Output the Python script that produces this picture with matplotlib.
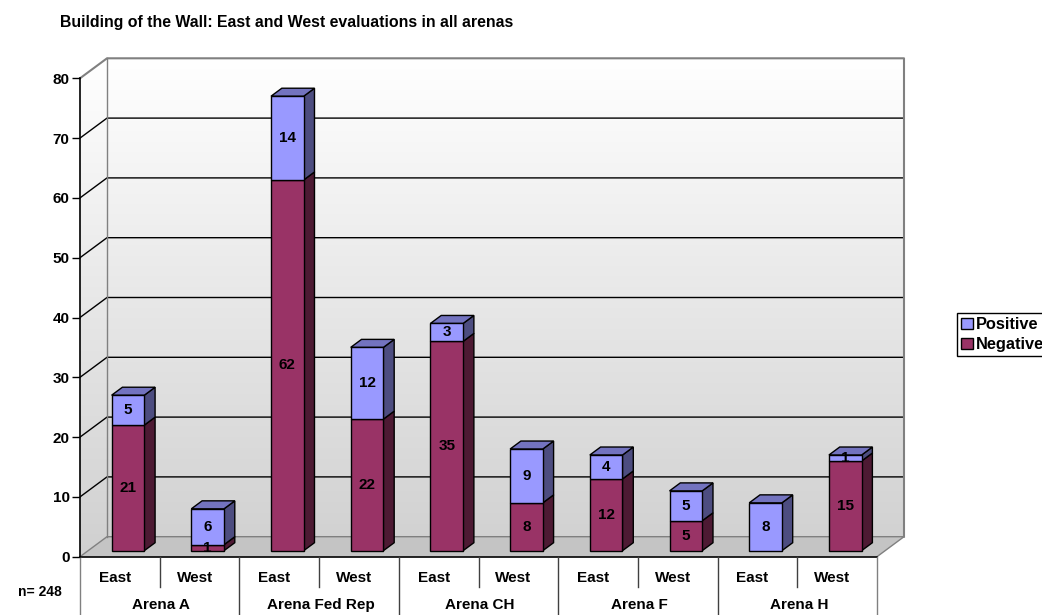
import matplotlib
matplotlib.use("Agg")
import matplotlib.pyplot as plt
import numpy as np
from matplotlib.patches import Polygon, Patch
from matplotlib.colors import LinearSegmentedColormap

plt.rcParams['font.family'] = ['Liberation Sans', 'DejaVu Sans']
plt.rcParams['font.weight'] = 'bold'

# ---- data -------------------------------------------------------------
title = "Building of the Wall: East and West evaluations in all arenas"
arenas = ["Arena A", "Arena Fed Rep", "Arena CH", "Arena F", "Arena H"]
sides = ["East", "West"]
negative = [21, 1, 62, 22, 35, 8, 12, 5, 0, 15]
positive = [5, 6, 14, 12, 3, 9, 4, 5, 8, 1]
series_names = ["Positive", "Negative"]
sample_note = "n= 248"
y_ticks = list(range(0, 81, 10))

# ---- styling ----------------------------------------------------------
POS = np.array([0x99, 0x99, 0xFF]) / 255
NEG = np.array([0x99, 0x33, 0x66]) / 255
FS = 11

W, H, DPI = 1042, 615, 100
fig = plt.figure(figsize=(W / DPI, H / DPI), dpi=DPI)
ax = fig.add_axes([0, 0, 1, 1])

# pixel scale of the plot: one category / one value unit
XU, YU = 79.7, 5.98
X0, Y0 = 80, 556.7
ax.set_xlim(-X0 / XU, (W - X0) / XU)
ax.set_ylim(-(H - Y0) / YU, Y0 / YU)

ncat = len(negative)
ymax = y_ticks[-1]
DX, DY = 27 / XU, 20 / YU          # full depth of the 3-D box
D0, D1 = 0.3, 0.7                  # depth range occupied by the bars
BW = 0.41                          # bar width in category units

# ---- walls and floor --------------------------------------------------
wall_path = Polygon([(0, 0), (DX, DY), (ncat + DX, DY), (ncat + DX, ymax + DY),
                     (DX, ymax + DY), (0, ymax)], closed=True,
                    facecolor='none', edgecolor='none')
ax.add_patch(wall_path)
cmap = LinearSegmentedColormap.from_list('wall', ['#d0d0d0', '#e7e7e7', '#ffffff'])
grad = np.linspace(0, 1, 256).reshape(-1, 1)
img = ax.imshow(grad, extent=[0, ncat + DX, 0, ymax + DY], origin='lower',
                aspect='auto', cmap=cmap, interpolation='bicubic', zorder=0)
img.set_clip_path(wall_path)

floor = Polygon([(0, 0), (ncat, 0), (ncat + DX, DY), (DX, DY)], closed=True,
                facecolor='#c4c4c4', edgecolor='none', zorder=1)
ax.add_patch(floor)

for v in y_ticks[1:-1]:
    ax.plot([0, DX, ncat + DX], [v, v + DY, v + DY], color='black', lw=1,
            zorder=1.5, solid_capstyle='butt')
# wall outlines
ax.plot([0, DX, ncat + DX, ncat + DX], [ymax, ymax + DY, ymax + DY, DY],
        color='#808080', lw=1.5, zorder=1.5)
ax.plot([DX, DX], [DY, ymax + DY], color='#808080', lw=1, zorder=1.5)
ax.plot([0, DX, ncat + DX, ncat], [0, DY, DY, 0], color='#808080', lw=1,
        zorder=1.5)
ax.plot([0, ncat], [0, 0], color='black', lw=1.2, zorder=2)

# ---- bars -------------------------------------------------------------
def draw_segment(xc, y0, y1, base, top_face):
    x0 = xc - BW / 2 + D0 * DX
    oy = D0 * DY
    bx, by = (D1 - D0) * DX, (D1 - D0) * DY
    kw = dict(closed=True, edgecolor='black', lw=1, joinstyle='miter', zorder=3)
    ax.add_patch(Polygon([(x0 + BW, y0 + oy), (x0 + BW + bx, y0 + oy + by),
                          (x0 + BW + bx, y1 + oy + by), (x0 + BW, y1 + oy)],
                         facecolor=base * 0.5, **kw))
    if top_face:
        ax.add_patch(Polygon([(x0, y1 + oy), (x0 + BW, y1 + oy),
                              (x0 + BW + bx, y1 + oy + by), (x0 + bx, y1 + oy + by)],
                             facecolor=base * 0.75, **kw))
    ax.add_patch(Polygon([(x0, y0 + oy), (x0 + BW, y0 + oy),
                          (x0 + BW, y1 + oy), (x0, y1 + oy)],
                         facecolor=base, **kw))


for i in range(ncat):
    xc = i + 0.5
    segs = [(negative[i], NEG), (positive[i], POS)]
    segs = [(v, c) for v, c in segs if v > 0]
    bottom = 0
    for k, (v, c) in enumerate(segs):
        draw_segment(xc, bottom, bottom + v, c, k == len(segs) - 1)
        ax.text(xc + D0 * DX, bottom + v / 2 + D0 * DY, f"{v}", ha='center',
                va='center', fontsize=FS, fontweight='bold', zorder=10)
        bottom += v

# ---- value axis -------------------------------------------------------
for s in ['top', 'right', 'bottom']:
    ax.spines[s].set_visible(False)
ax.spines['left'].set_position(('data', 0))
ax.spines['left'].set_bounds(0, ymax)
ax.spines['left'].set_linewidth(1.2)
ax.spines['left'].set_zorder(2)
ax.set_yticks(y_ticks)
ax.set_yticklabels([str(t) for t in y_ticks])
ax.tick_params(axis='y', direction='out', length=6, width=1, pad=1.5,
               labelsize=FS)
ax.set_xticks([])
for lab in ax.get_yticklabels():
    lab.set_fontweight('bold')

# ---- category table ---------------------------------------------------
row1 = -(587 - Y0) / YU
bottom_edge = -(H - Y0) / YU
for i in range(ncat + 1):
    if i % 2 == 0:
        col = '#808080' if i in (0, ncat) else '#404040'
        ax.plot([i, i], [0, bottom_edge], color=col, lw=1, zorder=2)
    else:
        ax.plot([i, i], [0, row1], color='#404040', lw=1, zorder=2)

side_shift = 5 / XU
for i in range(ncat):
    ax.text(i + 0.5 - side_shift, -(578 - Y0) / YU, sides[i % 2], ha='center',
            va='center', fontsize=FS, fontweight='bold')
for g, name in enumerate(arenas):
    ax.text(2 * g + 1 + 1.5 / XU, -(605 - Y0) / YU, name, ha='center',
            va='center', fontsize=FS, fontweight='bold')

ax.text((18 - X0) / XU, -(592 - Y0) / YU, sample_note, ha='left', va='center',
        fontsize=10, fontweight='bold')

fig.text(60 / W, 1 - 22 / H, title, ha='left', va='center', fontsize=11.4,
         fontweight='bold')

# ---- legend -----------------------------------------------------------
handles = [Patch(facecolor=POS, edgecolor='black', lw=1),
           Patch(facecolor=NEG, edgecolor='black', lw=1)]
leg = fig.legend(handles, series_names, loc='upper left',
                 bbox_to_anchor=(957 / W, 1 - 313 / H), frameon=True,
                 fancybox=False, edgecolor='black', framealpha=1,
                 handlelength=0.7, handleheight=0.7, handletextpad=0.2,
                 borderpad=0.25, labelspacing=0.3, borderaxespad=0,
                 prop={'weight': 'bold', 'size': 11.8})
leg.get_frame().set_linewidth(1)

fig.savefig('out.png', dpi=DPI)
